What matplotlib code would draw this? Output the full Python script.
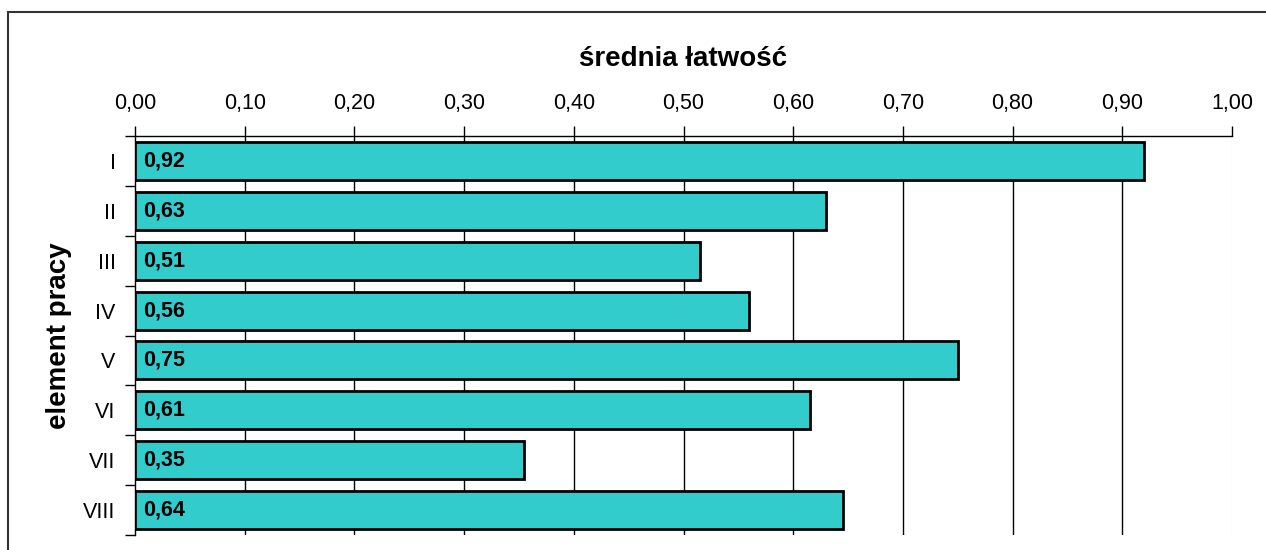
import matplotlib
matplotlib.use("Agg")
import matplotlib.pyplot as plt
from matplotlib.patches import Rectangle
import numpy as np

plt.rcParams['font.family'] = ['Liberation Sans', 'DejaVu Sans']

categories = ["I", "II", "III", "IV", "V", "VI", "VII", "VIII"]
values = [0.92, 0.63, 0.515, 0.56, 0.75, 0.615, 0.355, 0.645]
labels = ["0,92", "0,63", "0,51", "0,56", "0,75", "0,61", "0,35", "0,64"]
xticks = [0.0, 0.1, 0.2, 0.3, 0.4, 0.5, 0.6, 0.7, 0.8, 0.9, 1.0]

W, H = 1266, 550
fig = plt.figure(figsize=(W / 100, H / 100), dpi=100)
ax = fig.add_axes([135 / W, 1 - 535 / H, (1232 - 135) / W, (535 - 136) / H])

# outer frame
fig.patches.append(Rectangle((8 / W, -0.1), 1.2, 1 - 12 / H + 0.1, transform=fig.transFigure,
                             fill=False, edgecolor='#333333', linewidth=1.5))

y = np.arange(len(categories))
ax.barh(y, values, height=0.76, color='#33CCCC', edgecolor='black', linewidth=2, zorder=3)
for yi, lab in zip(y, labels):
    ax.text(0.007, yi, lab, va='center', ha='left', fontsize=15.5, fontweight='bold', zorder=4)

ax.set_xlim(0, 1.0)
ax.set_ylim(len(categories) - 0.5, -0.5)
ax.xaxis.tick_top()
ax.xaxis.set_label_position('top')
ax.set_xticks(xticks)
ax.set_xticklabels([f"{t:.2f}".replace('.', ',') for t in xticks], fontsize=15.5)
ax.tick_params(axis='x', direction='out', length=7, width=1, pad=9)
ax.set_yticks(y)
ax.set_yticklabels(categories, fontsize=15.5)
ax.set_yticks(np.arange(len(categories) + 1) - 0.5, minor=True)
ax.tick_params(axis='y', which='major', length=0, pad=14)
ax.tick_params(axis='y', which='minor', direction='out', length=7, width=1)

for t in xticks[1:-1]:
    ax.axvline(t, color='black', linewidth=1, zorder=1)
ax.axvline(1.0, color='#eeeeee', linewidth=1, zorder=1)

ax.spines['right'].set_visible(False)
ax.spines['bottom'].set_visible(False)
ax.spines['top'].set_linewidth(1)
ax.spines['left'].set_linewidth(1)

ax.set_xlabel("średnia łatwość", fontsize=20, fontweight='bold', labelpad=19)
ax.set_ylabel("element pracy", fontsize=20, fontweight='bold', labelpad=8)

fig.savefig("out.png", dpi=100)
